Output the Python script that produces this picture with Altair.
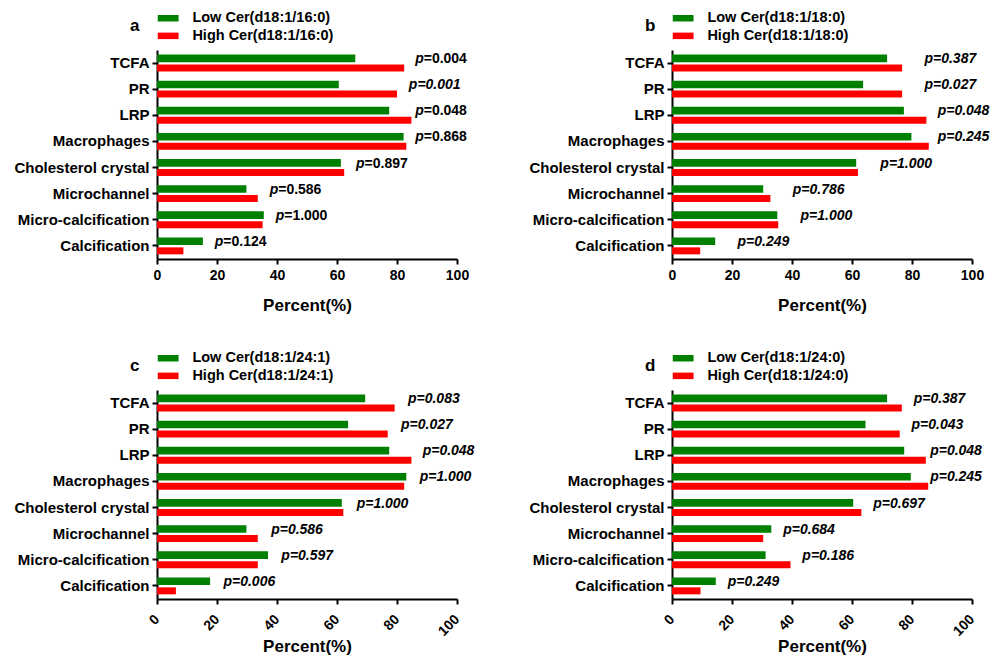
import altair as alt
import pandas as pd

FONT = "Liberation Sans"

categories = ["TCFA", "PR", "LRP", "Macrophages", "Cholesterol crystal",
              "Microchannel", "Micro-calcification", "Calcification"]

# Panel a: Cer(d18:1/16:0)
a_low = [66.1, 60.6, 77.4, 82.2, 61.3, 29.8, 35.6, 15.3]
a_high = [82.4, 80.0, 84.8, 83.1, 62.4, 33.6, 35.2, 8.8]
a_p = ["0.004", "0.001", "0.048", "0.868", "0.897", "0.586", "1.000", "0.124"]
a_italic = [False, True, False, False, False, False, False, False]

# Panel b: Cer(d18:1/18:0)
b_low = [71.7, 63.7, 77.3, 79.8, 61.4, 30.4, 35.1, 14.4]
b_high = [76.7, 76.7, 84.8, 85.6, 62.0, 32.8, 35.4, 9.4]
b_p = ["0.387", "0.027", "0.048", "0.245", "1.000", "0.786", "1.000", "0.249"]
b_italic = [True] * 8

# Panel c: Cer(d18:1/24:1)
c_low = [69.4, 63.7, 77.4, 83.1, 61.6, 29.8, 37.0, 17.7]
c_high = [79.2, 76.9, 84.8, 82.4, 62.1, 33.6, 33.6, 6.3]
c_p = ["0.083", "0.027", "0.048", "1.000", "1.000", "0.586", "0.597", "0.006"]
c_italic = [True] * 8

# Panel d: Cer(d18:1/24:0)
d_low = [71.7, 64.5, 77.4, 79.6, 60.4, 33.1, 31.2, 14.6]
d_high = [76.6, 75.9, 84.6, 85.4, 63.1, 30.4, 39.5, 9.5]
d_p = ["0.387", "0.043", "0.048", "0.245", "0.697", "0.684", "0.186", "0.249"]
d_italic = [True] * 8

x_ticks = [0, 20, 40, 60, 80, 100]
GREEN = "#008000"
RED = "#FF0000"


def panel(letter, lipid, low, high, pvals, pital, off, cap, rotate):
    low_name = f"Low Cer({lipid})"
    high_name = f"High Cer({lipid})"
    ldf = pd.DataFrame({"cat": categories, "grp": low_name, "val": low})
    hdf = pd.DataFrame({"cat": categories, "grp": high_name, "val": high})
    pdf = pd.DataFrame({
        "cat": categories,
        "val": [min(max(l, h) + off, cap) for l, h in zip(low, high)],
        "rest": ["=" + p for p in pvals],
        "ital": pital,
    })

    xaxis = alt.Axis(values=x_ticks, grid=False, labelFont=FONT, labelFontSize=14,
                     labelFontWeight="bold", labelColor="black", domainColor="black",
                     domainWidth=2, tickColor="black", tickWidth=2, tickSize=5,
                     labelPadding=13 if rotate else 4,
                     labelAngle=315 if rotate else 0,
                     labelAlign="right" if rotate else "center",
                     labelBaseline="middle" if rotate else "top",
                     titleFont=FONT, titleFontSize=17, titleFontWeight="bold",
                     titleColor="black", titlePadding=0 if rotate else 15)
    yaxis = alt.Axis(labelFont=FONT, labelFontSize=15, labelFontWeight="bold",
                     labelColor="black", domainColor="black", domainWidth=2,
                     tickColor="black", tickWidth=2, tickSize=5, labelPadding=3)
    X = alt.X("val:Q", title="Percent(%)", scale=alt.Scale(domain=[0, 100], nice=False),
              axis=xaxis)
    Y = alt.Y("cat:N", sort=categories, title=None,
              scale=alt.Scale(paddingInner=0.35, paddingOuter=0.175), axis=yaxis)
    color = alt.Color("grp:N", sort=[low_name, high_name],
                      scale=alt.Scale(domain=[low_name, high_name], range=[GREEN, RED]),
                      legend=alt.Legend(title=None, orient="none", legendX=3.9, legendY=-39,
                                        direction="vertical",
                                        symbolType="M-1.6,-0.5L1.6,-0.5L1.6,0.5L-1.6,0.5Z",
                                        symbolSize=169, symbolStrokeWidth=0,
                                        symbolOpacity=1, labelOffset=17,
                                        labelFont=FONT, labelFontSize=14.5,
                                        labelFontWeight="bold", labelColor="black",
                                        rowPadding=2.6))

    green = alt.Chart(ldf).mark_bar(height=7.6, yOffset=-4.7).encode(x=X, y=Y, color=color)
    red = alt.Chart(hdf).mark_bar(height=7.0, yOffset=4.9).encode(x=X, y=Y, color=color)
    common = dict(font=FONT, fontSize=14, fontWeight="bold", color="black", dy=-4)
    ptxt = alt.Chart(pdf).mark_text(align="right", fontStyle="italic", **common).encode(
        x=X, y=Y, text=alt.value("p"))
    layers = [green, red, ptxt]
    it = pdf[pdf["ital"]]
    no = pdf[~pdf["ital"]]
    if len(it):
        layers.append(alt.Chart(it).mark_text(align="left", fontStyle="italic", **common)
                      .encode(x=X, y=Y, text="rest:N"))
    if len(no):
        layers.append(alt.Chart(no).mark_text(align="left", fontStyle="normal", **common)
                      .encode(x=X, y=Y, text="rest:N"))
    return alt.layer(*layers).properties(
        width=300, height=209,
        title=alt.TitleParams(letter, anchor="start", frame="group", dx=-27, offset=-24,
                              font=FONT, fontSize=17, fontWeight="bold", color="black"))


pa = panel("a", "d18:1/16:0", a_low, a_high, a_p, a_italic, 6.8, 88.9, False)
pb = panel("b", "d18:1/18:0", b_low, b_high, b_p, b_italic, 10.3, 91.4, False)
pc = panel("c", "d18:1/24:1", c_low, c_high, c_p, c_italic, 7.3, 91.4, True)
pd_ = panel("d", "d18:1/24:0", d_low, d_high, d_p, d_italic, 6.8, 88.9, True)

top = alt.hconcat(pa, pb, spacing=59).resolve_scale(color="independent")
bottom = alt.hconcat(pc, pd_, spacing=53).resolve_scale(color="independent")
chart = alt.vconcat(top, bottom, spacing=38).resolve_scale(color="independent").configure_view(
    stroke=None).properties(padding={"left": 5, "top": 3, "right": 0, "bottom": 0})

chart.save("out.html", embed_options={"renderer": "svg", "actions": False})
